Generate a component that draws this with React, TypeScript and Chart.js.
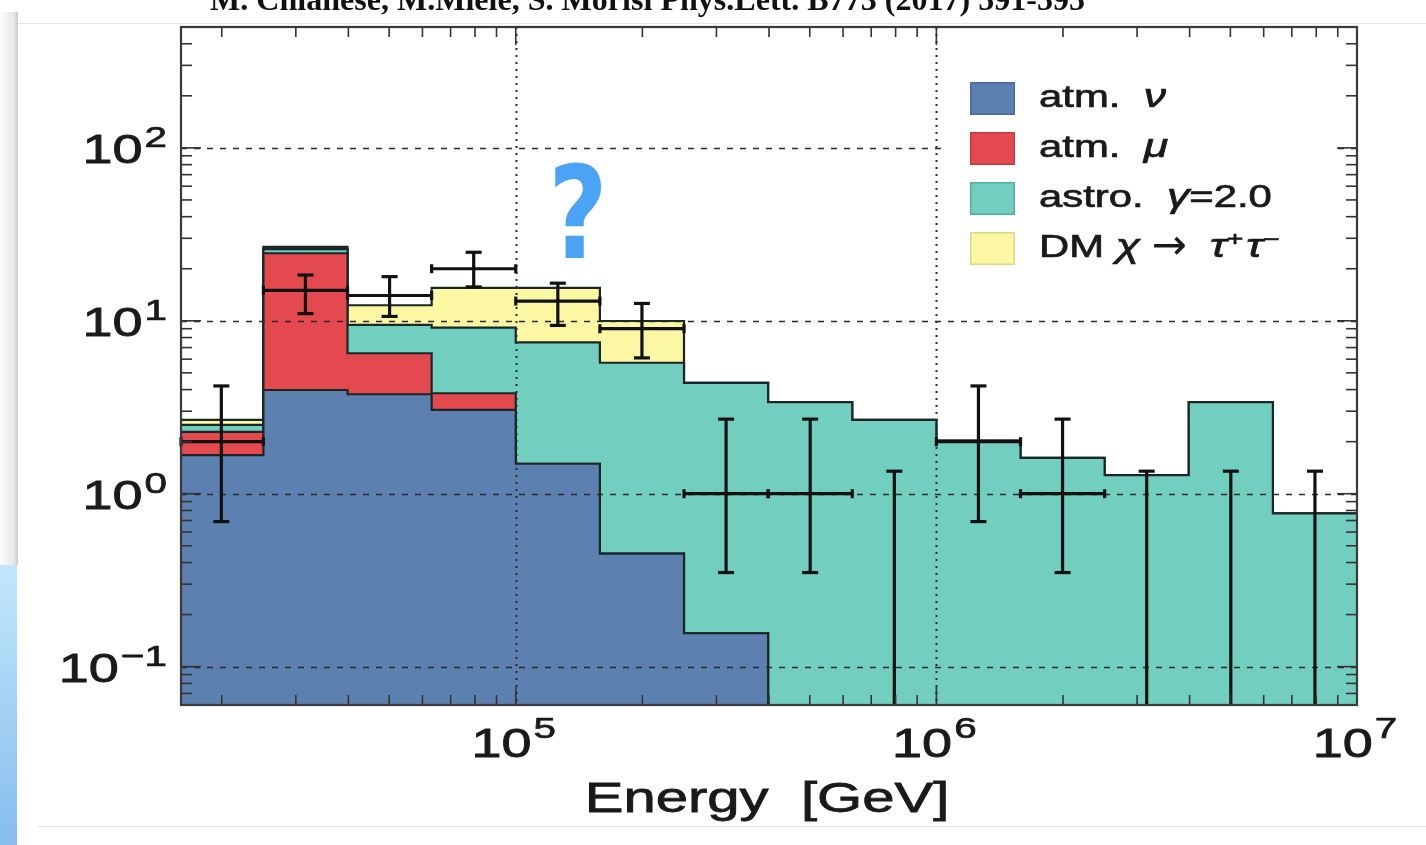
import React, { useEffect, useRef } from "react";
import { Chart, registerables } from "chart.js";

Chart.register(...registerables);

// Energy bin edges in GeV (0.2 decades per bin)
const binEdges = [15849, 25119, 39811, 63096, 100000, 158489, 251189, 398107, 630957, 1000000, 1584893, 2511886, 3981072, 6309573, 10000000];

// Expected events per bin, one array per stacked component (bottom to top)
const atmNu = [1.67, 3.98, 3.76, 3.05, 1.49, 0.45, 0.156, 0, 0, 0, 0, 0, 0, 0];
const atmMu = [0.61, 20.6, 2.73, 0.76, 0, 0, 0, 0, 0, 0, 0, 0, 0, 0];
const astro = [0.22, 1.4, 2.97, 5.31, 6.02, 5.27, 4.22, 3.39, 2.67, 2.03, 1.61, 1.28, 3.39, 0.77];
const dmTauTau = [0.17, 0.8, 2.84, 6.38, 7.99, 4.25, 0, 0, 0, 0, 0, 0, 0, 0];

// Observed events with their error-bar ends (0 lower end = bar runs to the axis)
const events = [2, 15, 14, 20, 13, 9, 1, 1, 0, 2, 1, 0, 0, 0];
const errHigh = [4.2, 18.4, 18.0, 24.9, 16.5, 12.6, 2.7, 2.7, 1.35, 4.2, 2.7, 1.35, 1.35, 1.35];
const errLow = [0.69, 11.0, 10.6, 15.7, 9.4, 6.1, 0.35, 0.35, 0, 0.69, 0.35, 0, 0, 0];

// Axis ticks
const yDecades = [0.1, 1, 10, 100];
const yExponents = ["\u22121", "0", "1", "2"];
const xDecades = [100000, 1000000, 10000000];
const xExponents = ["5", "6", "7"];
const minorMultiples = [2, 3, 4, 5, 6, 7, 8, 9];
const yTickDecades = [0.01, 0.1, 1, 10, 100];
const xTickDecades = [10000, 100000, 1000000];

// Legend entries: [text, kind] with kind 0 = upright, 1 = italic, 2 = superscript, 3 = arrow
const legendRuns: [string, number][][] = [
  [["atm.  ", 0], ["\u03BD", 1]],
  [["atm.  ", 0], ["\u03BC", 1]],
  [["astro.  ", 0], ["\u03B3", 1], ["=2.0", 0]],
  [["DM ", 0], ["\u03C7", 1], [" ", 0], ["\u2192", 3], ["  ", 0], ["\u03C4", 1], ["+", 2], ["\u03C4", 1], ["\u2212", 2]],
];
const seriesColors = ["#5c80b0", "#e4494f", "#72cfc0", "#fbf7a3"];
const seriesBoxEdges = ["#4a6a98", "#c43b41", "#56ad9f", "#d9d68e"];

const X_MIN = 16000;
const X_MAX = 10000000;
const Y_MIN = 0.06;
const Y_MAX = 500;
const LOG_FLOOR = 1e-3; // empty bins sit below the visible log range

const SANS = '"Liberation Sans", Arial, sans-serif';
const SX = 1.35; // horizontal stretch of the lettering

function drawText(ctx: CanvasRenderingContext2D, text: string, x: number, y: number, font: string, sx: number, align: "left" | "center" | "right" = "left", weight = 0) {
  ctx.save();
  ctx.font = font;
  const w = ctx.measureText(text).width * sx;
  let left = x;
  if (align === "center") left = x - w / 2;
  if (align === "right") left = x - w;
  ctx.translate(left, y);
  ctx.scale(sx, 1);
  ctx.textAlign = "left";
  ctx.textBaseline = "alphabetic";
  ctx.fillText(text, 0, 0);
  if (weight > 0) {
    ctx.strokeStyle = ctx.fillStyle;
    ctx.lineWidth = weight;
    ctx.strokeText(text, 0, 0);
  }
  ctx.restore();
  return w;
}

function measure(ctx: CanvasRenderingContext2D, text: string, font: string, sx: number) {
  ctx.save();
  ctx.font = font;
  const w = ctx.measureText(text).width * sx;
  ctx.restore();
  return w;
}

function seg(ctx: CanvasRenderingContext2D, x1: number, y1: number, x2: number, y2: number) {
  ctx.beginPath();
  ctx.moveTo(x1, y1);
  ctx.lineTo(x2, y2);
  ctx.stroke();
}

const pagePlugin = {
  id: "pageDecor",
  beforeDraw(chart: any) {
    const { ctx, width, height } = chart;
    ctx.save();
    // slide edge on the left
    const g1 = ctx.createLinearGradient(0, 0, 18, 0);
    g1.addColorStop(0, "#fbfbfb");
    g1.addColorStop(0.75, "#e9e9e9");
    g1.addColorStop(1, "#c9c9c9");
    ctx.fillStyle = g1;
    ctx.fillRect(0, 12, 18, 553);
    const g2 = ctx.createLinearGradient(0, 565, 0, height);
    g2.addColorStop(0, "#c2e7fb");
    g2.addColorStop(1, "#86bdee");
    ctx.fillStyle = g2;
    ctx.fillRect(0, 565, 17, height - 565);
    // thin frame lines of the pasted figure
    ctx.strokeStyle = "#e4e4e4";
    ctx.lineWidth = 1;
    seg(ctx, 18, 23.5, width, 23.5);
    seg(ctx, 38, 826.5, width, 826.5);
    // reference line at the top
    ctx.fillStyle = "#111";
    const tFont = 'bold 32px "Liberation Serif", "Times New Roman", serif';
    const tText = "M. Chianese, M.Miele, S. Morisi Phys.Lett. B773 (2017) 591-595";
    const raw = measure(ctx, tText, tFont, 1);
    drawText(ctx, tText, 210, 10, tFont, 875 / raw);
    ctx.restore();
  },
  afterDatasetsDraw(chart: any) {
    const { ctx, chartArea: a } = chart;
    const xs = chart.scales.x;
    const ys = chart.scales.y;
    ctx.save();

    // decade grid: dashed horizontals, dotted verticals
    ctx.strokeStyle = "#2a2a2a";
    ctx.lineWidth = 1.6;
    ctx.setLineDash([6, 7]);
    yDecades.forEach((v) => {
      const py = Math.round(ys.getPixelForValue(v)) + 0.5;
      seg(ctx, a.left, py, a.right, py);
    });
    ctx.setLineDash([2, 5]);
    ctx.lineWidth = 2;
    xDecades.forEach((v) => {
      if (v >= X_MAX) return;
      const px = Math.round(xs.getPixelForValue(v)) + 0.5;
      seg(ctx, px, a.top, px, a.bottom);
    });
    ctx.setLineDash([]);

    // legend background
    const lx = a.right - 387;
    const ly = a.top + 55;
    ctx.fillStyle = "#ffffff";
    ctx.fillRect(lx - 25, ly - 22, 390, 223);

    // observed events with error bars
    ctx.strokeStyle = "#111";
    ctx.lineWidth = 3.2;
    events.forEach((n, i) => {
      const lo = binEdges[i];
      const hi = binEdges[i + 1];
      const px = xs.getPixelForValue(Math.sqrt(lo * hi));
      const pTop = ys.getPixelForValue(errHigh[i]);
      const pBot = errLow[i] > 0 ? ys.getPixelForValue(errLow[i]) : a.bottom;
      seg(ctx, px, pTop, px, pBot);
      seg(ctx, px - 8, pTop, px + 8, pTop);
      if (errLow[i] > 0) seg(ctx, px - 8, pBot, px + 8, pBot);
      if (n > 0) {
        const py = ys.getPixelForValue(n);
        const l = Math.max(a.left, xs.getPixelForValue(lo));
        const r = Math.min(a.right, xs.getPixelForValue(hi));
        seg(ctx, l, py, r, py);
        seg(ctx, l, py - 4.5, l, py + 4.5);
        seg(ctx, r, py - 4.5, r, py + 4.5);
      }
    });

    // frame and inward ticks on all four sides
    ctx.strokeStyle = "#333";
    ctx.lineWidth = 1.6;
    xTickDecades.forEach((d) => {
      minorMultiples.forEach((m) => {
        const v = d * m;
        if (v <= X_MIN || v >= X_MAX) return;
        const px = xs.getPixelForValue(v);
        seg(ctx, px, a.bottom, px, a.bottom - 10);
        seg(ctx, px, a.top, px, a.top + 10);
      });
    });
    xDecades.forEach((v) => {
      if (v >= X_MAX) return;
      const px = xs.getPixelForValue(v);
      seg(ctx, px, a.bottom, px, a.bottom - 18);
      seg(ctx, px, a.top, px, a.top + 18);
    });
    yTickDecades.forEach((d) => {
      minorMultiples.forEach((m) => {
        const v = d * m;
        if (v <= Y_MIN || v >= Y_MAX) return;
        const py = ys.getPixelForValue(v);
        seg(ctx, a.left, py, a.left + 11, py);
        seg(ctx, a.right, py, a.right - 11, py);
      });
    });
    yDecades.forEach((v) => {
      const py = ys.getPixelForValue(v);
      seg(ctx, a.left, py, a.left + 20, py);
      seg(ctx, a.right, py, a.right - 20, py);
    });
    ctx.strokeStyle = "#3a3a3a";
    ctx.lineWidth = 2.2;
    ctx.strokeRect(a.left, a.top, a.right - a.left, a.bottom - a.top);

    // tick labels
    ctx.fillStyle = "#1a1a1a";
    const baseFont = `40px ${SANS}`;
    const expFont = `30px ${SANS}`;
    yDecades.forEach((v, i) => {
      const py = ys.getPixelForValue(v);
      const right = a.left - 14;
      const ew = drawText(ctx, yExponents[i], right, py - 1, expFont, SX, "right", 0.7);
      drawText(ctx, "10", right - ew - 2, py + 15, baseFont, SX, "right", 0.8);
    });
    xDecades.forEach((v, i) => {
      const px = xs.getPixelForValue(v);
      const w10 = measure(ctx, "10", baseFont, SX);
      const we = measure(ctx, xExponents[i], expFont, SX);
      const left = px - (w10 + we + 2) / 2 - 2;
      drawText(ctx, "10", left, a.bottom + 52, baseFont, SX, "left", 0.8);
      drawText(ctx, xExponents[i], left + w10 + 2, a.bottom + 33, expFont, SX, "left", 0.7);
    });
    drawText(ctx, "Energy  [GeV]", (a.left + a.right) / 2 - 2, a.bottom + 107, `43px ${SANS}`, SX, "center", 0.8);

    // legend
    legendRuns.forEach((runs, i) => {
      const top = ly + i * 50;
      ctx.fillStyle = seriesColors[i];
      ctx.fillRect(lx, top, 45, 33);
      ctx.strokeStyle = seriesBoxEdges[i];
      ctx.lineWidth = 1.5;
      ctx.strokeRect(lx + 0.75, top + 0.75, 43.5, 31.5);
      ctx.fillStyle = "#1a1a1a";
      let cx = lx + 69;
      runs.forEach(([t, kind]) => {
        let font = `31px ${SANS}`;
        let dy = 0;
        let sx = SX;
        if (kind === 1) font = `italic 33px ${SANS}`;
        if (kind === 2) { font = `21px ${SANS}`; dy = -11; }
        if (kind === 3) { font = `42px "DejaVu Sans", sans-serif`; dy = 2; sx = 1.0; }
        cx += drawText(ctx, t, cx, top + 25 + dy, font, sx, "left", kind === 3 ? 0 : 0.7);
        if (kind === 2) cx += 3;
      });
    });

    // question mark above the excess
    ctx.fillStyle = "#4ba3f5";
    drawText(ctx, "?", 578, 258, 'bold 128px "DejaVu Sans", sans-serif', 0.8, "center");

    ctx.restore();
  },
};

function stepPoints(values: number[]) {
  return binEdges.map((e, i) => {
    const v = values[Math.max(0, Math.min(i - 1, values.length - 1))];
    return { x: e, y: v > 0 ? v : LOG_FLOOR };
  });
}

export default function App() {
  const ref = useRef<HTMLCanvasElement | null>(null);

  useEffect(() => {
    document.body.style.margin = "0";
    const canvas = ref.current;
    if (!canvas) return;

    const layers = [atmNu, atmMu, astro, dmTauTau];
    let running = atmNu.map(() => 0);
    const cumulative = layers.map((layer) => {
      running = running.map((r, i) => r + layer[i]);
      return running;
    });
    const names = legendRuns.map((runs) => runs.map((r) => r[0]).join(""));

    const chart = new Chart(canvas, {
      type: "line",
      data: {
        datasets: cumulative.map((vals, k) => ({
          label: names[k],
          data: stepPoints(vals),
          // each segment between two edges takes the value of its right-hand point
          stepped: "after",
          borderColor: "#1c2626",
          borderWidth: 2.2,
          backgroundColor: seriesColors[k],
          fill: k === 0 ? "start" : "-1",
          pointRadius: 0,
          clip: 0,
        })),
      },
      options: {
        responsive: false,
        maintainAspectRatio: false,
        animation: false,
        events: [],
        layout: { padding: { left: 181, top: 27, right: 69, bottom: 140 } },
        scales: {
          x: { type: "logarithmic", min: X_MIN, max: X_MAX, display: false },
          y: { type: "logarithmic", min: Y_MIN, max: Y_MAX, display: false },
        },
        plugins: {
          legend: { display: false },
          tooltip: { enabled: false },
        },
      },
      plugins: [pagePlugin],
    } as any);

    return () => chart.destroy();
  }, []);

  return (
    <div style={{ position: "relative", width: 1426, height: 845, overflow: "hidden", background: "#ffffff" }}>
      <canvas ref={ref} width={1426} height={845} style={{ display: "block", width: 1426, height: 845 }} />
    </div>
  );
}
